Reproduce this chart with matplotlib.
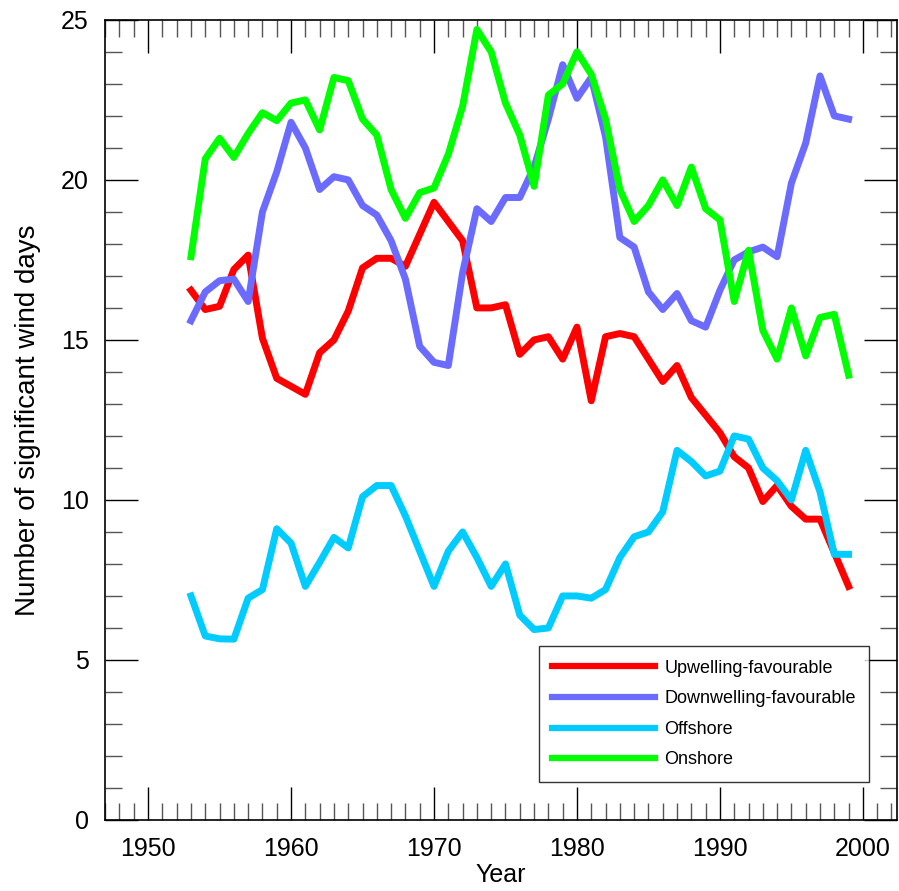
import numpy as np
import matplotlib
matplotlib.use("Agg")
import matplotlib.pyplot as plt
from matplotlib.ticker import MultipleLocator

plt.rcParams['font.family'] = ['Liberation Sans', 'DejaVu Sans']

years = list(range(1953, 2000))

upwelling = [16.55, 15.95, 16.05, 17.2, 17.65, 15.05, 13.8, 13.55, 13.3, 14.6,
             15.0, 15.9, 17.25, 17.55, 17.55, 17.3, 18.3, 19.3, 18.7, 18.1,
             16.0, 16.0, 16.1, 14.55, 15.0, 15.1, 14.4, 15.4, 13.1, 15.1,
             15.2, 15.1, 14.4, 13.7, 14.2, 13.2, 12.65, 12.1, 11.35, 11.0,
             9.95, 10.45, 9.8, 9.4, 9.4, 8.35, 7.3]

downwelling = [15.6, 16.5, 16.85, 16.9, 16.2, 19.0, 20.25, 21.8, 21.0, 19.7,
               20.1, 20.0, 19.2, 18.9, 18.1, 16.9, 14.8, 14.3, 14.2, 17.1,
               19.1, 18.7, 19.45, 19.45, 20.4, 21.9, 23.6, 22.55, 23.2, 21.35,
               18.2, 17.9, 16.5, 15.95, 16.45, 15.6, 15.4, 16.55, 17.5, 17.75,
               17.9, 17.6, 19.9, 21.15, 23.25, 22.0, 21.9]

offshore = [7.0, 5.75, 5.66, 5.65, 6.93, 7.2, 9.1, 8.65, 7.3, 8.05,
            8.83, 8.5, 10.1, 10.45, 10.45, 9.5, 8.4, 7.3, 8.4, 9.0,
            8.2, 7.3, 8.0, 6.4, 5.95, 6.0, 7.0, 7.0, 6.93, 7.2,
            8.2, 8.85, 9.0, 9.63, 11.55, 11.2, 10.75, 10.9, 12.0, 11.9,
            11.0, 10.6, 10.0, 11.55, 10.25, 8.3, 8.3]

onshore = [17.6, 20.66, 21.3, 20.7, 21.45, 22.1, 21.85, 22.4, 22.5, 21.56,
           23.2, 23.1, 21.9, 21.4, 19.7, 18.8, 19.6, 19.75, 20.8, 22.3,
           24.7, 24.0, 22.4, 21.4, 19.8, 22.65, 23.0, 24.0, 23.3, 21.9,
           19.7, 18.7, 19.2, 20.0, 19.2, 20.4, 19.1, 18.75, 16.2, 17.8,
           15.3, 14.4, 16.0, 14.5, 15.7, 15.8, 13.9]

fig = plt.figure(figsize=(8.99, 8.91), dpi=100)
ax = fig.add_axes([0.117, 0.0797, 0.881, 0.898])

ax.plot(years, upwelling, color='#ff0000', lw=5, label='Upwelling-favourable')
ax.plot(years, downwelling, color='#6b6bff', lw=5, label='Downwelling-favourable')
ax.plot(years, offshore, color='#00ccff', lw=5, label='Offshore')
ax.plot(years, onshore, color='#00ff00', lw=5, label='Onshore')

ax.set_xlim(1947, 2002.4)
ax.set_ylim(0, 25)
ax.xaxis.set_major_locator(MultipleLocator(10))
ax.xaxis.set_minor_locator(MultipleLocator(1))
ax.yaxis.set_major_locator(MultipleLocator(5))
ax.yaxis.set_minor_locator(MultipleLocator(1))
ax.tick_params(which='both', direction='in', top=True, right=True, labelsize=18, pad=12)
ax.tick_params(which='major', length=24, width=1, color='black')
ax.tick_params(which='minor', length=12, width=1, color='#555555')
for s in ax.spines.values():
    s.set_linewidth(1.2)

ax.set_xlabel('Year', fontsize=18, labelpad=2)
ax.set_ylabel('Number of significant wind days', fontsize=20, labelpad=14)

leg = ax.legend(loc='lower left', bbox_to_anchor=(0.5475, 0.0475), borderaxespad=0,
                fontsize=13, handlelength=5.7, handletextpad=0.5, labelspacing=0.75,
                fancybox=False, frameon=True, borderpad=0.75)
leg.get_frame().set_edgecolor('black')
leg.get_frame().set_linewidth(1)
for line in leg.get_lines():
    line.set_linewidth(4.5)

fig.savefig('out.png', dpi=100)
